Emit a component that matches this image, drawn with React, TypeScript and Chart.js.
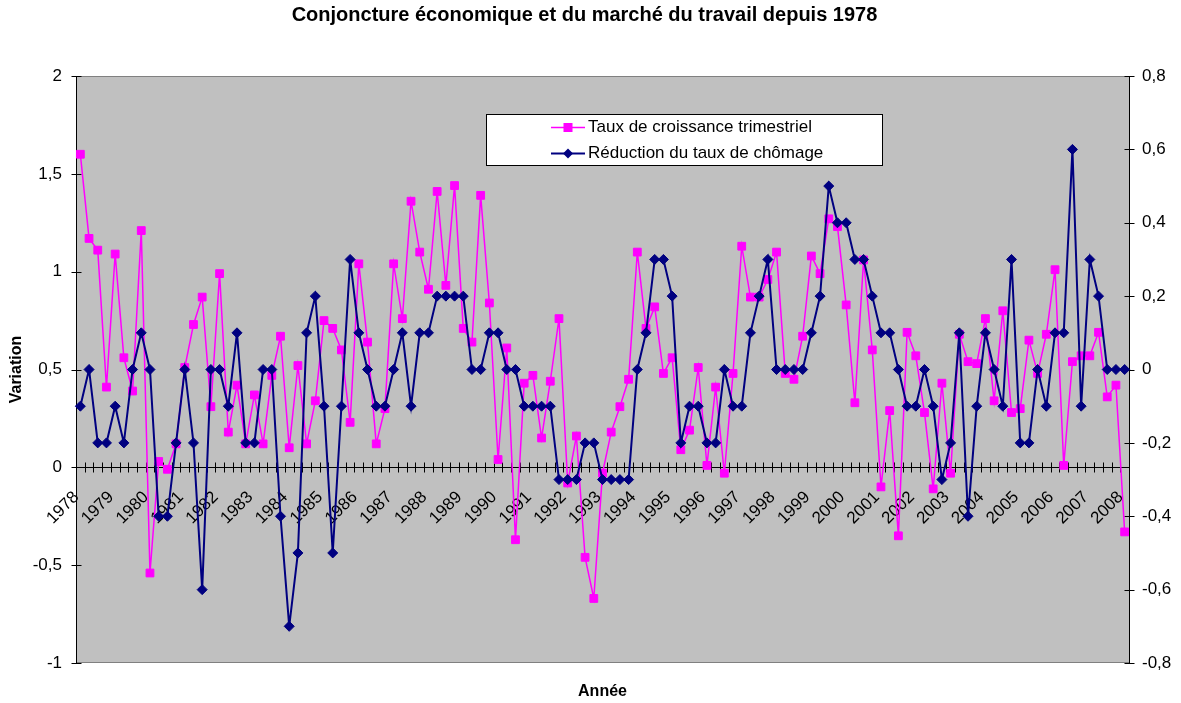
import React, { useEffect, useRef } from 'react';
import { Chart, registerables } from 'chart.js';

Chart.register(...registerables);

const TITLE = 'Conjoncture économique et du marché du travail depuis 1978';
const X_TITLE = 'Année';
const Y_TITLE = 'Variation';
const SERIES_NAMES = ['Taux de croissance trimestriel', 'Réduction du taux de chômage'];

const YEARS = [
  '1978', '1979', '1980', '1981', '1982', '1983', '1984', '1985', '1986', '1987',
  '1988', '1989', '1990', '1991', '1992', '1993', '1994', '1995', '1996', '1997',
  '1998', '1999', '2000', '2001', '2002', '2003', '2004', '2005', '2006', '2007', '2008',
];
const QUARTERS = ['T1', 'T2', 'T3', 'T4'];

// Taux de croissance trimestriel (axe gauche)
const GROWTH = [
  1.60, 1.17, 1.11, 0.41, 1.09, 0.56, 0.39, 1.21, -0.54, 0.03, -0.01, 0.12,
  0.51, 0.73, 0.87, 0.31, 0.99, 0.18, 0.42, 0.12, 0.37, 0.12, 0.47, 0.67,
  0.10, 0.52, 0.12, 0.34, 0.75, 0.71, 0.60, 0.23, 1.04, 0.64, 0.12, 0.30,
  1.04, 0.76, 1.36, 1.10, 0.91, 1.41, 0.93, 1.44, 0.71, 0.64, 1.39, 0.84,
  0.04, 0.61, -0.37, 0.43, 0.47, 0.15, 0.44, 0.76, -0.08, 0.16, -0.46, -0.67,
  -0.03, 0.18, 0.31, 0.45, 1.10, 0.71, 0.82, 0.48, 0.56, 0.09, 0.19, 0.51,
  0.01, 0.41, -0.03, 0.48, 1.13, 0.87, 0.87, 0.96, 1.10, 0.48, 0.45, 0.67,
  1.08, 0.99, 1.27, 1.23, 0.83, 0.33, 1.06, 0.60, -0.10, 0.29, -0.35, 0.69,
  0.57, 0.28, -0.11, 0.43, -0.03, 0.68, 0.54, 0.53, 0.76, 0.34, 0.80, 0.28,
  0.30, 0.65, 0.48, 0.68, 1.01, 0.01, 0.54, 0.57, 0.57, 0.69, 0.36, 0.42,
  -0.33,
];

// Réduction du taux de chômage (axe droit)
const UNEMPLOYMENT_CUT = [
  -0.1, 0, -0.2, -0.2, -0.1, -0.2, 0, 0.1, 0, -0.4, -0.4, -0.2,
  0, -0.2, -0.6, 0, 0, -0.1, 0.1, -0.2, -0.2, 0, 0, -0.4,
  -0.7, -0.5, 0.1, 0.2, -0.1, -0.5, -0.1, 0.3, 0.1, 0, -0.1, -0.1,
  0, 0.1, -0.1, 0.1, 0.1, 0.2, 0.2, 0.2, 0.2, 0, 0, 0.1,
  0.1, 0, 0, -0.1, -0.1, -0.1, -0.1, -0.3, -0.3, -0.3, -0.2, -0.2,
  -0.3, -0.3, -0.3, -0.3, 0, 0.1, 0.3, 0.3, 0.2, -0.2, -0.1, -0.1,
  -0.2, -0.2, 0, -0.1, -0.1, 0.1, 0.2, 0.3, 0, 0, 0, 0,
  0.1, 0.2, 0.5, 0.4, 0.4, 0.3, 0.3, 0.2, 0.1, 0.1, 0, -0.1,
  -0.1, 0, -0.1, -0.3, -0.2, 0.1, -0.4, -0.1, 0.1, 0, -0.1, 0.3,
  -0.2, -0.2, 0, -0.1, 0.1, 0.1, 0.6, -0.1, 0.3, 0.2, 0, 0,
  0,
];

const CATEGORIES: string[] = [];
YEARS.forEach((y) => QUARTERS.forEach((q) => CATEGORIES.push(`${y} ${q}`)));
CATEGORIES.length = GROWTH.length;

const PINK = '#FF00FF';
const NAVY = '#000080';
const FONT = "'Liberation Sans', Arial, sans-serif";
const TXT = 17;

const fmtLeft = (v: number) => (Number.isInteger(v) ? String(v) : v.toFixed(1).replace('.', ','));
const fmtRight = (v: number) => {
  const s = v.toFixed(1);
  if (s === '0.0' || s === '-0.0') return '0';
  return s.replace('.', ',');
};

const decorPlugin = {
  id: 'decor',
  beforeDraw(chart: any) {
    const { ctx, chartArea: a } = chart;
    ctx.save();
    ctx.fillStyle = '#FFFFFF';
    ctx.fillRect(0, 0, chart.width, chart.height);
    ctx.fillStyle = '#C0C0C0';
    ctx.fillRect(a.left, a.top, a.right - a.left, a.bottom - a.top);
    ctx.strokeStyle = '#808080';
    ctx.lineWidth = 1;
    ctx.strokeRect(Math.round(a.left) + 0.5, Math.round(a.top) + 0.5, Math.round(a.right - a.left), Math.round(a.bottom - a.top) - 1);
    ctx.restore();
  },
  beforeDatasetsDraw(chart: any) {
    const { ctx } = chart;
    const xs = chart.scales.x;
    const ys = chart.scales.y;
    const y1 = chart.scales.y1;
    ctx.save();
    ctx.strokeStyle = '#000000';
    ctx.lineWidth = 1;
    ctx.beginPath();
    const y0 = Math.round(ys.getPixelForValue(0)) + 0.5;
    const half = (xs.getPixelForValue(1) - xs.getPixelForValue(0)) / 2;
    for (let i = 0; i <= CATEGORIES.length; i++) {
      const px = Math.round(xs.getPixelForValue(i) - half) + 0.5;
      ctx.moveTo(px, y0 - 5);
      ctx.lineTo(px, y0 + 5);
    }
    const lx = Math.round(ys.right) + 0.5;
    ys.ticks.forEach((t: any) => {
      const py = Math.round(ys.getPixelForValue(t.value)) + 0.5;
      ctx.moveTo(lx - 5, py);
      ctx.lineTo(lx + 5, py);
    });
    const rx = Math.round(y1.left) + 0.5;
    y1.ticks.forEach((t: any) => {
      const py = Math.round(y1.getPixelForValue(t.value)) + 0.5;
      ctx.moveTo(rx - 5, py);
      ctx.lineTo(rx + 5, py);
    });
    ctx.stroke();
    ctx.restore();
  },
  afterDraw(chart: any) {
    const { ctx, chartArea: a } = chart;
    ctx.save();
    // Title
    ctx.fillStyle = '#000000';
    ctx.font = `bold 20px ${FONT}`;
    ctx.textAlign = 'center';
    ctx.textBaseline = 'alphabetic';
    ctx.fillText(TITLE, 584.5, 21);
    // Axis titles
    ctx.font = `bold 16px ${FONT}`;
    ctx.textBaseline = 'middle';
    ctx.fillText(X_TITLE, (a.left + a.right) / 2, 692);
    ctx.save();
    ctx.translate(17, (a.top + a.bottom) / 2);
    ctx.rotate(-Math.PI / 2);
    ctx.fillText(Y_TITLE, 0, 0);
    ctx.restore();

    // Legend
    const bx = 486, by = 114, bw = 396, bh = 51;
    ctx.fillStyle = '#FFFFFF';
    ctx.fillRect(bx, by, bw, bh);
    ctx.strokeStyle = '#000000';
    ctx.lineWidth = 1;
    ctx.strokeRect(bx + 0.5, by + 0.5, bw, bh);
    const rows = [127.5, 153.5];
    chart.data.datasets.forEach((ds: any, i: number) => {
      const ry = rows[i];
      ctx.strokeStyle = ds.borderColor;
      ctx.lineWidth = ds.borderWidth;
      ctx.beginPath();
      ctx.moveTo(551, ry);
      ctx.lineTo(585, ry);
      ctx.stroke();
      ctx.fillStyle = ds.borderColor;
      const mx = 568;
      if (ds.pointStyle === 'rect') {
        ctx.fillRect(mx - 4.5, ry - 4.5, 9, 9);
      } else {
        ctx.beginPath();
        ctx.moveTo(mx, ry - 5);
        ctx.lineTo(mx + 5, ry);
        ctx.lineTo(mx, ry + 5);
        ctx.lineTo(mx - 5, ry);
        ctx.closePath();
        ctx.fill();
      }
      ctx.fillStyle = '#000000';
      ctx.font = `${TXT}px ${FONT}`;
      ctx.textAlign = 'left';
      ctx.textBaseline = 'middle';
      ctx.fillText(ds.label, 588, ry);
    });
    ctx.restore();
  },
};

export default function App() {
  const canvasRef = useRef<HTMLCanvasElement | null>(null);

  useEffect(() => {
    const canvas = canvasRef.current;
    if (!canvas) return;
    const chart = new Chart(canvas, {
      type: 'line',
      data: {
        labels: CATEGORIES,
        datasets: [
          {
            label: SERIES_NAMES[0],
            data: GROWTH,
            yAxisID: 'y',
            borderColor: PINK,
            backgroundColor: PINK,
            borderWidth: 1.5,
            pointStyle: 'rect',
            pointRadius: 5.5,
            pointBorderWidth: 1,
            pointBackgroundColor: PINK,
            pointBorderColor: PINK,
            tension: 0,
            clip: false,
            order: 2,
          },
          {
            label: SERIES_NAMES[1],
            data: UNEMPLOYMENT_CUT,
            yAxisID: 'y1',
            borderColor: NAVY,
            backgroundColor: NAVY,
            borderWidth: 2,
            pointStyle: 'rectRot',
            pointRadius: 5,
            pointBorderWidth: 1,
            pointBackgroundColor: NAVY,
            pointBorderColor: NAVY,
            tension: 0,
            clip: false,
            order: 1,
          },
        ],
      } as any,
      options: {
        responsive: false,
        animation: false,
        events: [],
        layout: { padding: { top: 76, bottom: 40, left: 0, right: 0 } },
        plugins: {
          legend: { display: false },
          title: { display: false },
          tooltip: { enabled: false },
        },
        scales: {
          x: {
            type: 'category',
            position: { y: 0 } as any,
            offset: true,
            grid: { display: true, drawOnChartArea: false, drawTicks: false, offset: true },
            border: { display: true, color: '#000000', width: 1 },
            ticks: {
              autoSkip: false,
              minRotation: 45,
              maxRotation: 45,
              padding: 20,
              labelOffset: -4,
              color: '#000000',
              font: { family: FONT, size: TXT },
              callback: (_v: any, i: number) => (i % 4 === 0 ? YEARS[i / 4] : ''),
            },
          },
          y: {
            type: 'linear',
            position: 'left',
            min: -1,
            max: 2,
            afterFit: (s: any) => { s.width = 76; },
            grid: { drawOnChartArea: false, drawTicks: false },
            border: { display: true, color: '#000000', width: 1 },
            ticks: {
              stepSize: 0.5,
              padding: 14,
              color: '#000000',
              font: { family: FONT, size: TXT },
              callback: (v: any) => fmtLeft(Number(v)),
            },
          },
          y1: {
            type: 'linear',
            position: 'right',
            min: -0.8,
            max: 0.8,
            afterFit: (s: any) => { s.width = 52; },
            grid: { drawOnChartArea: false, drawTicks: false },
            border: { display: true, color: '#000000', width: 1 },
            ticks: {
              stepSize: 0.2,
              padding: 13,
              color: '#000000',
              font: { family: FONT, size: TXT },
              callback: (v: any) => fmtRight(Number(v)),
            },
          },
        },
      } as any,
      plugins: [decorPlugin],
    });
    return () => chart.destroy();
  }, []);

  return (
    <div style={{ position: 'absolute', left: 0, top: 0, width: 1181, height: 703, background: '#FFFFFF' }}>
      <canvas ref={canvasRef} width={1181} height={703} style={{ display: 'block', width: 1181, height: 703 }} />
    </div>
  );
}
